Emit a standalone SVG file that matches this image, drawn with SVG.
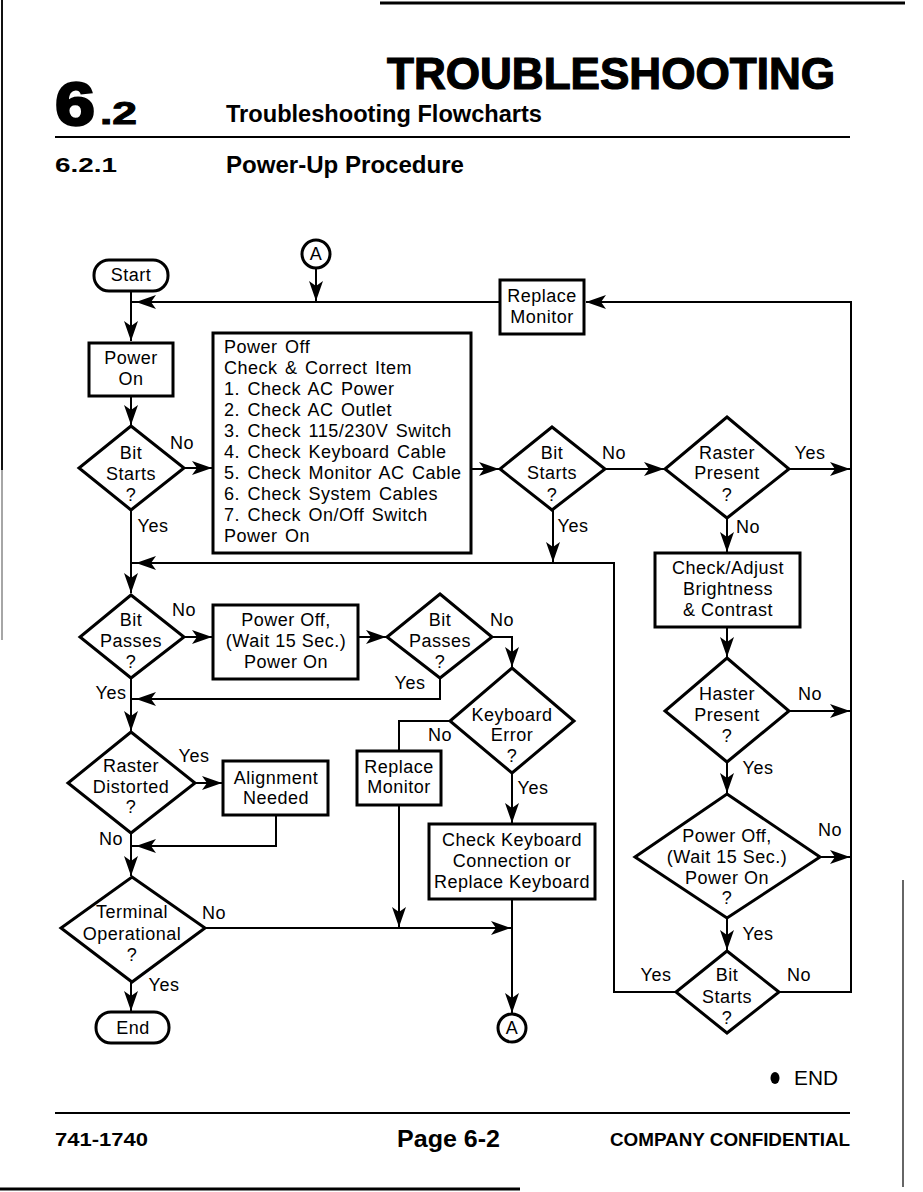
<svg xmlns="http://www.w3.org/2000/svg" width="923" height="1192" viewBox="0 0 923 1192">
<style>
.n{fill:#fff;stroke:#000;stroke-width:3}
.c{fill:none;stroke:#000;stroke-width:2}
.b{fill:none;stroke:#000}
.t{font-family:"Liberation Sans",Arial,sans-serif;font-size:18px;letter-spacing:0.5px;fill:#000;text-anchor:middle}
.l{font-family:"Liberation Sans",Arial,sans-serif;font-size:18px;letter-spacing:0.5px;word-spacing:2px;fill:#000}
.h{font-family:"Liberation Sans",Arial,sans-serif;font-weight:bold;fill:#000}
</style>
<defs>
<marker id="ah" viewBox="-21 -8 22 16" refX="0" refY="0" markerWidth="22" markerHeight="16" orient="auto" markerUnits="userSpaceOnUse">
<path d="M0,0 L-20,-7 L-15,0 L-20,7 Z" fill="#000"/>
</marker>
</defs>
<rect width="923" height="1192" fill="#fff"/>
<g id="page">
<line class="b" x1="380" y1="3" x2="905" y2="3" stroke-width="3"/>
<line x1="2" y1="0" x2="2" y2="470" stroke="#111" stroke-width="2"/>
<line x1="2" y1="470" x2="2" y2="640" stroke="#888" stroke-width="1.5"/>
<line x1="903" y1="880" x2="903" y2="1187" stroke="#333" stroke-width="1.5"/>
<line class="b" x1="0" y1="1189" x2="520" y2="1189" stroke-width="3"/>
<text class="h" x="387" y="89" font-size="44" stroke="#000" stroke-width="1.2" textLength="448" lengthAdjust="spacingAndGlyphs">TROUBLESHOOTING</text>
<text class="h" x="55" y="125" font-size="62" stroke="#000" stroke-width="2.5" textLength="40" lengthAdjust="spacingAndGlyphs">6</text>
<text class="h" x="100" y="124" font-size="32" stroke="#000" stroke-width="1" textLength="37" lengthAdjust="spacingAndGlyphs">.2</text>
<text class="h" x="226" y="122" font-size="23" textLength="316" lengthAdjust="spacingAndGlyphs">Troubleshooting Flowcharts</text>
<line class="b" x1="55" y1="137" x2="850" y2="137" stroke-width="2"/>
<text class="h" x="55" y="172" font-size="21" textLength="62" lengthAdjust="spacingAndGlyphs">6.2.1</text>
<text class="h" x="226" y="173" font-size="23" textLength="238" lengthAdjust="spacingAndGlyphs">Power-Up Procedure</text>
<ellipse cx="775" cy="1078" rx="4.5" ry="6" fill="#000"/>
<text x="794" y="1085" font-family="Liberation Sans,Arial,sans-serif" font-size="20" fill="#000" textLength="44" lengthAdjust="spacingAndGlyphs">END</text>
<line class="b" x1="55" y1="1113" x2="850" y2="1113" stroke-width="2"/>
<text class="h" x="55" y="1146" font-size="19" textLength="93" lengthAdjust="spacingAndGlyphs">741-1740</text>
<text class="h" x="397" y="1147" font-size="24" textLength="103" lengthAdjust="spacingAndGlyphs">Page 6-2</text>
<text class="h" x="610" y="1146" font-size="18" textLength="240" lengthAdjust="spacingAndGlyphs">COMPANY CONFIDENTIAL</text>
</g>
<g id="connectors">
<path class="c" d="M316,268 V301" marker-end="url(#ah)"/>
<path class="c" d="M779,992 H851 V302 H586" marker-end="url(#ah)"/>
<path class="c" d="M500,302 H136" marker-end="url(#ah)"/>
<path class="c" d="M136,302 H131"/>
<path class="c" d="M131,291 V341" marker-end="url(#ah)"/>
<path class="c" d="M131,396 V425" marker-end="url(#ah)"/>
<path class="c" d="M184,468 H212" marker-end="url(#ah)"/>
<path class="c" d="M131,510 V593" marker-end="url(#ah)"/>
<path class="c" d="M676,992 H614 V563 H136" marker-end="url(#ah)"/>
<path class="c" d="M136,563 H131"/>
<path class="c" d="M471,469 H499" marker-end="url(#ah)"/>
<path class="c" d="M605,469 H664" marker-end="url(#ah)"/>
<path class="c" d="M553,510 V562" marker-end="url(#ah)"/>
<path class="c" d="M789,469 H850" marker-end="url(#ah)"/>
<path class="c" d="M727,518 V552" marker-end="url(#ah)"/>
<path class="c" d="M727,627 V657" marker-end="url(#ah)"/>
<path class="c" d="M789,711 H850" marker-end="url(#ah)"/>
<path class="c" d="M727,762 V793" marker-end="url(#ah)"/>
<path class="c" d="M820,857 H850" marker-end="url(#ah)"/>
<path class="c" d="M727,918 V950" marker-end="url(#ah)"/>
<path class="c" d="M184,637 H212" marker-end="url(#ah)"/>
<path class="c" d="M358,637 H386" marker-end="url(#ah)"/>
<path class="c" d="M492,637 H512 V667" marker-end="url(#ah)"/>
<path class="c" d="M440,678 V699 H136" marker-end="url(#ah)"/>
<path class="c" d="M136,699 H131"/>
<path class="c" d="M131,678 V731" marker-end="url(#ah)"/>
<path class="c" d="M195,783 H222" marker-end="url(#ah)"/>
<path class="c" d="M276,815 V846 H136" marker-end="url(#ah)"/>
<path class="c" d="M136,846 H131"/>
<path class="c" d="M131,833 V876" marker-end="url(#ah)"/>
<path class="c" d="M205,928 H511" marker-end="url(#ah)"/>
<path class="c" d="M131,982 V1011" marker-end="url(#ah)"/>
<path class="c" d="M450,721 H399 V751"/>
<path class="c" d="M399,805 V927" marker-end="url(#ah)"/>
<path class="c" d="M512,773 V823" marker-end="url(#ah)"/>
<path class="c" d="M512,899 V1013" marker-end="url(#ah)"/>
<text class="t" x="182" y="449">No</text>
<text class="t" x="153" y="532">Yes</text>
<text class="t" x="614" y="459">No</text>
<text class="t" x="573" y="532">Yes</text>
<text class="t" x="810" y="459">Yes</text>
<text class="t" x="748" y="533">No</text>
<text class="t" x="810" y="700">No</text>
<text class="t" x="758" y="774">Yes</text>
<text class="t" x="830" y="836">No</text>
<text class="t" x="758" y="940">Yes</text>
<text class="t" x="656" y="981">Yes</text>
<text class="t" x="799" y="981">No</text>
<text class="t" x="184" y="616">No</text>
<text class="t" x="502" y="626">No</text>
<text class="t" x="410" y="689">Yes</text>
<text class="t" x="111" y="699">Yes</text>
<text class="t" x="194" y="762">Yes</text>
<text class="t" x="111" y="845">No</text>
<text class="t" x="440" y="741">No</text>
<text class="t" x="533" y="794">Yes</text>
<text class="t" x="214" y="919">No</text>
<text class="t" x="164" y="991">Yes</text>
</g>
<g id="start"><rect class="n" x="94" y="260" width="74" height="31" rx="15"/><text class="t" x="131" y="281">Start</text></g>
<g id="connA1"><circle class="n" cx="316" cy="254" r="14" stroke-width="2.5"/><text class="t" x="316" y="260" letter-spacing="0">A</text></g>
<g id="replaceMonitor1"><rect class="n" x="500" y="280" width="84" height="54"/><text class="t" x="542" y="302">Replace</text><text class="t" x="542" y="323">Monitor</text></g>
<g id="powerOn"><rect class="n" x="89" y="343" width="84" height="53"/><text class="t" x="131" y="364">Power</text><text class="t" x="131" y="385">On</text></g>
<g id="bitStarts1"><polygon class="n" points="131,426 184,468 131,510 79,468"/><text class="t" x="131" y="459">Bit</text><text class="t" x="131" y="480">Starts</text><text class="t" x="131" y="501">?</text></g>
<g id="checkList"><rect class="n" x="213" y="333" width="258" height="220"/>
<text class="l" x="224" y="353">Power Off</text>
<text class="l" x="224" y="374">Check &amp; Correct Item</text>
<text class="l" x="224" y="395">1. Check AC Power</text>
<text class="l" x="224" y="416">2. Check AC Outlet</text>
<text class="l" x="224" y="437">3. Check 115/230V Switch</text>
<text class="l" x="224" y="458">4. Check Keyboard Cable</text>
<text class="l" x="224" y="479">5. Check Monitor AC Cable</text>
<text class="l" x="224" y="500">6. Check System Cables</text>
<text class="l" x="224" y="521">7. Check On/Off Switch</text>
<text class="l" x="224" y="542">Power On</text></g>
<g id="bitStarts2"><polygon class="n" points="552,427 605,469 552,510 500,469"/><text class="t" x="552" y="459">Bit</text><text class="t" x="552" y="479">Starts</text><text class="t" x="552" y="501">?</text></g>
<g id="rasterPresent1"><polygon class="n" points="727,417 789,469 727,518 665,469"/><text class="t" x="727" y="459">Raster</text><text class="t" x="727" y="479">Present</text><text class="t" x="727" y="501">?</text></g>
<g id="checkAdjust"><rect class="n" x="655" y="553" width="145" height="74"/><text class="t" x="728" y="574">Check/Adjust</text><text class="t" x="728" y="595">Brightness</text><text class="t" x="728" y="616">&amp; Contrast</text></g>
<g id="rasterPresent2"><polygon class="n" points="727,658 789,711 727,762 665,711"/><text class="t" x="727" y="700">Haster</text><text class="t" x="727" y="721">Present</text><text class="t" x="727" y="742">?</text></g>
<g id="powerCycle2"><polygon class="n" points="727,794 820,857 727,918 635,857"/><text class="t" x="727" y="842">Power Off,</text><text class="t" x="727" y="863">(Wait 15 Sec.)</text><text class="t" x="727" y="884">Power On</text><text class="t" x="727" y="904">?</text></g>
<g id="bitStarts3"><polygon class="n" points="727,951 779,992 727,1033 676,992"/><text class="t" x="727" y="981">Bit</text><text class="t" x="727" y="1003">Starts</text><text class="t" x="727" y="1024">?</text></g>
<g id="bitPasses1"><polygon class="n" points="131,595 184,637 131,678 80,637"/><text class="t" x="131" y="626">Bit</text><text class="t" x="131" y="647">Passes</text><text class="t" x="131" y="668">?</text></g>
<g id="powerCycle1"><rect class="n" x="213" y="605" width="145" height="74"/><text class="t" x="286" y="626">Power Off,</text><text class="t" x="286" y="647">(Wait 15 Sec.)</text><text class="t" x="286" y="668">Power On</text></g>
<g id="bitPasses2"><polygon class="n" points="440,594 492,637 440,678 387,637"/><text class="t" x="440" y="626">Bit</text><text class="t" x="440" y="647">Passes</text><text class="t" x="440" y="668">?</text></g>
<g id="rasterDistorted"><polygon class="n" points="131,732 195,783 131,833 68,783"/><text class="t" x="131" y="772">Raster</text><text class="t" x="131" y="793">Distorted</text><text class="t" x="131" y="813">?</text></g>
<g id="alignment"><rect class="n" x="223" y="761" width="105" height="54"/><text class="t" x="276" y="784">Alignment</text><text class="t" x="276" y="804">Needed</text></g>
<g id="terminalOperational"><polygon class="n" points="132,877 205,928 132,982 61,928"/><text class="t" x="132" y="918">Terminal</text><text class="t" x="132" y="940">Operational</text><text class="t" x="132" y="961">?</text></g>
<g id="end"><rect class="n" x="96" y="1012" width="73" height="31" rx="15"/><text class="t" x="133" y="1034">End</text></g>
<g id="keyboardError"><polygon class="n" points="512,668 574,721 512,773 450,721"/><text class="t" x="512" y="721">Keyboard</text><text class="t" x="512" y="741">Error</text><text class="t" x="512" y="762">?</text></g>
<g id="replaceMonitor2"><rect class="n" x="357" y="751" width="84" height="54"/><text class="t" x="399" y="773">Replace</text><text class="t" x="399" y="793">Monitor</text></g>
<g id="checkKeyboard"><rect class="n" x="429" y="824" width="166" height="75"/><text class="t" x="512" y="846">Check Keyboard</text><text class="t" x="512" y="867">Connection or</text><text class="t" x="512" y="888">Replace Keyboard</text></g>
<g id="connA2"><circle class="n" cx="512" cy="1028" r="14" stroke-width="2.5"/><text class="t" x="512" y="1034" letter-spacing="0">A</text></g>
</svg>
